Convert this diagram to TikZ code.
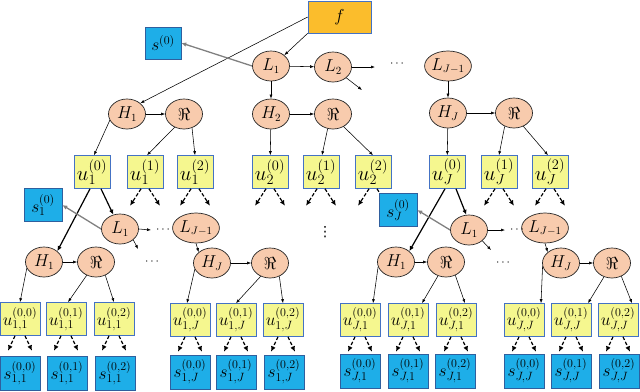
\documentclass[tikz,border=0pt]{standalone}
\usepackage{fontspec}
\newfontfamily\djv{DejaVu Sans}
\usetikzlibrary{shapes.geometric,arrows.meta}
\definecolor{peach}{HTML}{F8CBAD}
\definecolor{ybox}{HTML}{F5F78F}
\definecolor{bbox}{HTML}{1EAEE8}
\definecolor{obox}{HTML}{FBBD2C}
\definecolor{bdr}{HTML}{4472C4}
\definecolor{bdrdk}{HTML}{2F5F9E}
\begin{document}
\begin{tikzpicture}[x=1pt,y=-1pt,
  ell/.style={ellipse, draw=black!85, fill=peach, line width=0.7pt, minimum width=37pt, minimum height=30pt, inner sep=0pt, font=\fontsize{16}{18}\selectfont},
  ubox/.style={rectangle, draw=bdr, fill=ybox, line width=0.6pt, minimum width=36pt, minimum height=33pt, inner sep=0pt, font=\fontsize{19.5}{21}\selectfont},
  lubox/.style={ubox, minimum width=40pt, font=\fontsize{17}{19}\selectfont},
  sbox/.style={rectangle, draw=bdrdk, fill=bbox, line width=0.6pt, minimum width=38pt, minimum height=33pt, inner sep=0pt, font=\fontsize{18}{20}\selectfont},
  lsbox/.style={sbox, minimum width=40pt, minimum height=34pt, font=\fontsize{17}{19}\selectfont},
  fbox/.style={rectangle, draw=bdr, fill=obox, line width=0.6pt, minimum width=63pt, minimum height=32pt, inner sep=0pt, font=\fontsize{18}{20}\selectfont},
  arr/.style={-{Latex[length=4pt,width=3pt]}, line width=0.55pt},
  darr/.style={-{Latex[length=5.5pt,width=5pt]}, line width=1.2pt, dash pattern=on 3.5pt off 2pt},
  tarr/.style={-{Latex[length=5pt,width=4.5pt]}, line width=1.2pt},
  garr/.style={-{Latex[length=5pt,width=4.5pt]}, line width=1.3pt, draw=gray},
  dotlab/.style={inner sep=0pt, font=\fontsize{13}{15}\selectfont}
]
\useasboundingbox (0,0) rectangle (640,391);

% top
\node[fbox] (f) at (339.5,17) {$f$};
\node[sbox, minimum width=36pt, minimum height=32pt] (s0) at (163,43) {$s^{(0)}$};
\node[ell] (L1) at (271,66) {$L_1$};
\node[ell] (L2) at (333,67) {$L_2$};
\node[ell] (LJ1) at (448,66) {$L_{J-1}$};
\node[ell] (H1) at (127,114) {$H_1$};
\node[ell] (R1) at (184,114) {$\Re$};
\node[ell] (H2) at (271,114) {$H_2$};
\node[ell] (R2) at (333,114) {$\Re$};
\node[ell] (HJ) at (448,113) {$H_J$};
\node[ell] (R3) at (514,113) {$\Re$};
\node[dotlab] (dtop) at (397,64) {$\cdots$};
\coordinate (L2r) at (375,67);
\coordinate (L2d) at (362,90);

% upper u row
\node[ubox] (u10) at (92,172) {$u_1^{(0)}$};
\node[ubox] (u11) at (145,172) {$u_1^{(1)}$};
\node[ubox] (u12) at (195,172) {$u_1^{(2)}$};
\node[ubox] (u20) at (270,172) {$u_2^{(0)}$};
\node[ubox] (u21) at (321,172) {$u_2^{(1)}$};
\node[ubox] (u22) at (373,172) {$u_2^{(2)}$};
\node[ubox] (uJ0) at (447,172) {$u_J^{(0)}$};
\node[ubox] (uJ1) at (499,172) {$u_J^{(1)}$};
\node[ubox] (uJ2) at (550,172) {$u_J^{(2)}$};

% dashed arrows below upper boxes
\foreach \b in {u11,u12,u20,u21,u22,uJ1,uJ2}{
  \draw[darr] ([xshift=-4pt]\b.south) -- ++(-11,17);
  \draw[darr] ([xshift=4pt]\b.south) -- ++(11,17);
}

% level 2
\node[sbox] (s10) at (43,205) {$s_1^{(0)}$};
\node[sbox] (sJ0) at (398,210) {$s_J^{(0)}$};
\node[ell] (L1a) at (120,229) {$L_1$};
\node[ell] (LJ1a) at (196,228) {$L_{J-1}$};
\node[ell] (L1b) at (469,230) {$L_1$};
\node[ell] (LJ1b) at (545,228) {$L_{J-1}$};
\node[dotlab] (dl2a) at (163,230) {$\cdots$};
\node[dotlab] (dl2b) at (517,230) {$\cdots$};
\node[inner sep=0pt, font=\djv\fontsize{14}{16}\selectfont] (vd) at (325,232) {⋮};
\coordinate (L1ar) at (151,230);
\coordinate (L1ad) at (138,249);
\coordinate (L1br) at (505,230);
\coordinate (L1bd) at (491,250);

% level 3
\node[ell] (H1a) at (44,262) {$H_1$};
\node[ell] (R1a) at (96,262) {$\Re$};
\node[ell] (HJa) at (212,263) {$H_J$};
\node[ell] (RJa) at (270,263) {$\Re$};
\node[ell] (H1b) at (396,262) {$H_1$};
\node[ell] (R1b) at (446,262) {$\Re$};
\node[ell] (HJb) at (561,263) {$H_J$};
\node[ell] (RJb) at (612,263) {$\Re$};
\node[dotlab] (dl3a) at (152,262) {$\cdots$};
\node[dotlab] (dl3b) at (503,263) {$\cdots$};

% lower u row
\node[lubox] (ua1) at (20,319) {$u_{1,1}^{(0,0)}$};
\node[lubox] (ua2) at (66,319) {$u_{1,1}^{(0,1)}$};
\node[lubox] (ua3) at (114,319) {$u_{1,1}^{(0,2)}$};
\node[lubox] (ua4) at (190,320) {$u_{1,J}^{(0,0)}$};
\node[lubox] (ua5) at (236,320) {$u_{1,J}^{(0,1)}$};
\node[lubox] (ua6) at (283,320) {$u_{1,J}^{(0,2)}$};
\node[lubox] (ua7) at (360,320) {$u_{J,1}^{(0,0)}$};
\node[lubox] (ua8) at (408,320) {$u_{J,1}^{(0,1)}$};
\node[lubox] (ua9) at (456,320) {$u_{J,1}^{(0,2)}$};
\node[lubox] (ua10) at (524,320) {$u_{J,J}^{(0,0)}$};
\node[lubox] (ua11) at (571,320) {$u_{J,J}^{(0,1)}$};
\node[lubox] (ua12) at (618,320) {$u_{J,J}^{(0,2)}$};

% s row
\node[lsbox] (sa1) at (20,373) {$s_{1,1}^{(0,0)}$};
\node[lsbox] (sa2) at (67,373) {$s_{1,1}^{(0,1)}$};
\node[lsbox] (sa3) at (115,373) {$s_{1,1}^{(0,2)}$};
\node[lsbox] (sa4) at (190,372) {$s_{1,J}^{(0,0)}$};
\node[lsbox] (sa5) at (236,372) {$s_{1,J}^{(0,1)}$};
\node[lsbox] (sa6) at (284,372) {$s_{1,J}^{(0,2)}$};
\node[lsbox] (sa7) at (360,371) {$s_{J,1}^{(0,0)}$};
\node[lsbox] (sa8) at (408,371) {$s_{J,1}^{(0,1)}$};
\node[lsbox] (sa9) at (455,371) {$s_{J,1}^{(0,2)}$};
\node[lsbox] (sa10) at (524,371) {$s_{J,J}^{(0,0)}$};
\node[lsbox] (sa11) at (571,371) {$s_{J,J}^{(0,1)}$};
\node[lsbox] (sa12) at (619,371) {$s_{J,J}^{(0,2)}$};

\foreach \b in {ua1,ua2,ua3,ua4,ua5,ua6,ua7,ua8,ua9,ua10,ua11,ua12}{
  \draw[darr] ([xshift=-5pt]\b.south) -- ++(-7,15);
  \draw[darr] ([xshift=5pt]\b.south) -- ++(7,15);
}

% top edges
\draw[arr] (f.west) -- (H1.north east);
\draw[arr] (f.south west) -- (L1.north east);
\draw[garr] (L1.west) -- (s0.east);
\draw[arr] (L1) -- (L2);
\draw[arr] (L1) -- (H2);
\draw[arr] (L2.east) -- (L2r);
\draw[arr] (L2.south east) -- (L2d);
\draw[arr] (LJ1) -- (HJ);
\draw[arr] (H1) -- (R1);
\draw[arr] (H2) -- (R2);
\draw[arr] (HJ) -- (R3);
\draw[arr] (H1.200) -- ([xshift=2pt]u10.north);
\draw[arr] (R1.235) -- ([xshift=2pt]u11.north);
\draw[arr] (R1.300) -- (u12.north);
\draw[arr] (H2) -- (u20);
\draw[arr] (R2.250) -- ([xshift=1pt]u21.north);
\draw[arr] (R2.310) -- (u22.north);
\draw[arr] (HJ) -- (uJ0);
\draw[arr] (R3.235) -- (uJ1.north);
\draw[arr] (R3.305) -- ([xshift=-2pt]uJ2.north);

% level 2 edges
\draw[tarr] ([xshift=-2pt]u10.south) -- (H1a.north east);
\draw[tarr] ([xshift=9pt]u10.south) -- (L1a.115);
\draw[garr] (L1a.west) -- (s10.east);
\draw[arr] (L1a.east) -- (L1ar);
\draw[arr] (L1a.south east) -- (L1ad);
\draw[arr] (LJ1a.south) -- (HJa.north west);
\draw[tarr] ([xshift=-2pt]uJ0.south) -- (H1b.north east);
\draw[tarr] ([xshift=9pt]uJ0.south) -- (L1b.100);
\draw[garr] (L1b.west) -- (sJ0.east);
\draw[arr] (L1b.east) -- (L1br);
\draw[arr] (L1b.south east) -- (L1bd);
\draw[arr] (LJ1b.south) -- (HJb.north west);

% level 3 edges
\draw[arr] (H1a) -- (R1a);
\draw[arr] (HJa) -- (RJa);
\draw[arr] (H1b) -- (R1b);
\draw[arr] (HJb) -- (RJb);
\draw[arr] (H1a.200) -- (ua1.north);
\draw[arr] (R1a.235) -- ([xshift=2pt]ua2.north);
\draw[arr] (R1a.305) -- (ua3.north);
\draw[arr] (HJa.200) -- ([xshift=-3pt]ua4.north);
\draw[arr] (RJa.235) -- (ua5.north);
\draw[arr] (RJa.305) -- (ua6.north);
\draw[arr] (H1b.195) -- ([xshift=13pt]ua7.north);
\draw[arr] (R1b.240) -- ([xshift=14pt]ua8.north);
\draw[arr] (R1b.305) -- ([xshift=9pt]ua9.north);
\draw[arr] (HJb.190) -- ([xshift=17pt]ua10.north);
\draw[arr] (RJb.240) -- ([xshift=17pt]ua11.north);
\draw[arr] (RJb.305) -- ([xshift=14pt]ua12.north);
\end{tikzpicture}
\end{document}
